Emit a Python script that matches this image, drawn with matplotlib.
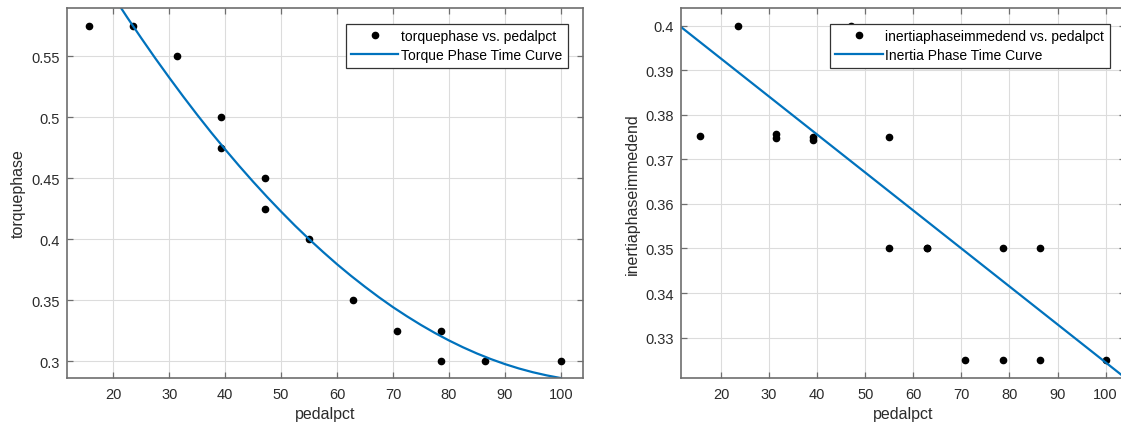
import matplotlib
matplotlib.use("Agg")
import matplotlib.pyplot as plt
from matplotlib.ticker import FuncFormatter

plt.rcParams['font.family'] = ['Liberation Sans', 'DejaVu Sans']

# left panel: torque phase
torque_pedal = [15.7, 23.5, 31.4, 39.2, 39.2, 47.1, 47.1, 55.0, 62.9, 70.7, 78.6, 78.6, 86.4, 100.0]
torquephase = [0.575, 0.575, 0.55, 0.5, 0.475, 0.45, 0.425, 0.4, 0.35, 0.325, 0.325, 0.3, 0.3, 0.3]

# fitted curve, every 2.5 pedalpct
torque_curve_x = [20, 22.5, 25, 27.5, 30, 32.5, 35, 37.5, 40, 42.5, 45, 47.5, 50, 52.5, 55,
                  57.5, 60, 62.5, 65, 67.5, 70, 72.5, 75, 77.5, 80, 82.5, 85, 87.5, 90,
                  92.5, 95, 97.5, 100]
torque_curve_y = [0.5993, 0.5818, 0.5649, 0.5484, 0.5325, 0.5170, 0.5020, 0.4875, 0.4736,
                  0.4601, 0.4471, 0.4346, 0.4226, 0.4110, 0.4000, 0.3895, 0.3794, 0.3699,
                  0.3609, 0.3523, 0.3442, 0.3367, 0.3296, 0.3230, 0.3169, 0.3113, 0.3062,
                  0.3016, 0.2975, 0.2939, 0.2908, 0.2882, 0.2860]

# right panel: inertia phase
inertia_pedal = [15.7, 23.5, 31.4, 31.4, 39.2, 39.2, 47.1, 55.0, 55.0, 62.9, 62.9,
                 70.7, 78.6, 78.6, 86.4, 86.4, 100.0]
inertiaphase = [0.3752, 0.4, 0.3757, 0.3749, 0.3751, 0.3743, 0.4, 0.3751, 0.35, 0.35, 0.3502,
                0.325, 0.35, 0.325, 0.35, 0.325, 0.325]

inertia_line_x = [11.66, 104.04]
inertia_line_y = [0.3997, 0.3210]

x_ticks = [20, 30, 40, 50, 60, 70, 80, 90, 100]
torque_yticks = [0.3, 0.35, 0.4, 0.45, 0.5, 0.55]
inertia_yticks = [0.33, 0.34, 0.35, 0.36, 0.37, 0.38, 0.39, 0.4]

blue = '#0072BD'
frame = '#6e6e6e'
txt = '#2b2b2b'


def style(ax, yticks, ylim, ylabel):
    ax.set_xlim(11.66, 104.04)
    ax.set_ylim(*ylim)
    ax.set_xticks(x_ticks)
    ax.set_yticks(yticks)
    ax.yaxis.set_major_formatter(FuncFormatter(lambda v, p: '{:g}'.format(round(v, 4))))
    ax.grid(True, color='#dcdcdc', linewidth=0.8)
    ax.set_axisbelow(True)
    for s in ax.spines.values():
        s.set_color(frame)
        s.set_linewidth(1.2)
    ax.tick_params(direction='in', top=True, right=True, length=4, width=0.9,
                   color=frame, labelsize=10.5, labelcolor=txt)
    ax.tick_params(axis='x', pad=7)
    ax.tick_params(axis='y', pad=5)
    ax.set_xlabel('pedalpct', fontsize=11.5, color=txt, labelpad=3)
    ax.set_ylabel(ylabel, fontsize=11.5, color=txt, labelpad=4)
    leg = ax.legend(loc='upper right', fontsize=10, frameon=True, fancybox=False,
                    edgecolor='#333333', framealpha=1, borderaxespad=1.1,
                    handlelength=3.4, handletextpad=0.2, labelspacing=0.35,
                    numpoints=1, borderpad=0.4)
    leg.get_frame().set_linewidth(0.9)


fig = plt.figure(figsize=(11.21, 4.27), dpi=100)
W, H = 1121, 427
ax1 = fig.add_axes([66.7 / W, 1 - 378.7 / H, (583.3 - 66.7) / W, (378.7 - 9.3) / H])
ax2 = fig.add_axes([681 / W, 1 - 378.7 / H, 444 / W, (378.7 - 9.3) / H])

ax1.plot(torque_pedal, torquephase, 'o', color='black', markersize=4.5,
         label='torquephase vs. pedalpct')
ax1.plot(torque_curve_x, torque_curve_y, color=blue, linewidth=1.6,
         label='Torque Phase Time Curve')
style(ax1, torque_yticks, (0.2863, 0.5894), 'torquephase')

ax2.plot(inertia_pedal, inertiaphase, 'o', color='black', markersize=4.5,
         label='inertiaphaseimmedend vs. pedalpct')
ax2.plot(inertia_line_x, inertia_line_y, color=blue, linewidth=1.6,
         label='Inertia Phase Time Curve')
style(ax2, inertia_yticks, (0.321, 0.4039), 'inertiaphaseimmedend')

fig.savefig('out.png', dpi=100)
